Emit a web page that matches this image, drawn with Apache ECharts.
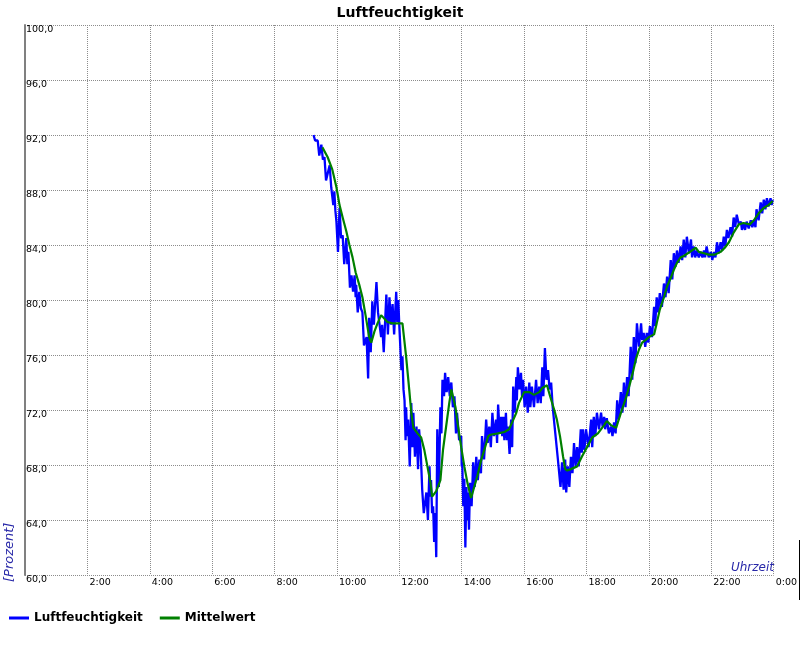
<!DOCTYPE html>
<html>
<head>
<meta charset="utf-8">
<script src="https://cdn.jsdelivr.net/npm/echarts@6/dist/echarts.min.js"></script>
<style>html,body{margin:0;padding:0;background:#fff}#c{width:800px;height:650px}</style>
</head>
<body>
<div id="c"></div>
<script>
// Time in minutes since midnight
const humTime = [555,558,563,566,570,573,576,579,586,589,591,593,595,597,599,602,605,608,611,614,618,620,622,625,628,631,634,636,637,640,643,646,649,652,657,660,662,665,668,671,676,679,682,685,687,690,695,698,701,704,707,710,714,716,718,720,722,724,726,728,730,732,733,735,737,740,743,745,747,750,753,756,758,761,764,767,772,775,778,780,781,783,785,787,789,791,793,796,799,801,803,806,808,811,814,817,820,823,826,829,831,835,839,840,841,843,845,847,849,851,852,854,856,859,862,865,868,871,874,877,879,883,887,890,893,896,899,902,906,908,910,913,916,918,920,922,925,927,929,932,935,937,939,942,945,946,948,951,954,956,958,961,964,967,970,972,975,979,983,986,989,992,995,997,1000,1003,1006,1009,1012,1015,1018,1020,1023,1025,1027,1030,1033,1036,1039,1041,1044,1047,1050,1053,1056,1059,1062,1065,1069,1071,1073,1076,1079,1084,1089,1091,1094,1097,1100,1104,1108,1111,1114,1116,1119,1123,1127,1130,1133,1136,1139,1142,1146,1149,1152,1155,1158,1161,1165,1168,1171,1174,1177,1181,1185,1187,1190,1193,1196,1199,1202,1206,1210,1212,1215,1218,1221,1225,1229,1232,1235,1238,1242,1245,1248,1251,1254,1257,1261,1264,1267,1270,1273,1277,1281,1283,1286,1289,1292,1296,1300,1303,1306,1308,1311,1315,1319,1322,1325,1328,1331,1334,1338,1341,1344,1347,1350,1353,1357,1360,1363,1366,1369,1373,1377,1379,1382,1385,1388,1392,1396,1399,1402,1405,1407,1411,1415,1418,1421,1424,1427,1430,1434,1436,1438];
const humValue = [92.0,91.6,91.6,90.5,91.3,90.2,90.4,88.7,89.8,88.2,88.2,86.9,87.9,86.5,85.7,83.5,86.7,84.5,84.7,82.6,84.5,82.6,83.5,80.9,81.8,80.6,81.8,80.2,81.1,79.1,80.6,79.4,79.1,76.7,77.3,74.3,78.7,76.2,79.9,78.2,81.3,79.1,79.1,77.3,78.2,76.2,80.4,77.5,80.2,78.2,79.7,77.5,80.6,78.4,80.0,78.1,78.1,74.9,75.9,73.5,72.7,69.8,72.2,70.1,71.3,67.9,72.5,69.3,71.8,68.6,70.8,67.7,70.6,69.1,66.2,64.5,66.0,64.0,67.9,65.7,66.9,64.5,65.0,62.4,64.5,61.3,70.6,66.4,72.2,70.3,74.2,73.0,74.7,73.3,74.4,73.0,74.0,72.2,73.0,70.3,71.8,69.8,70.1,67.9,68.2,65.0,67.0,62.0,66.4,64.0,66.0,63.3,66.7,65.0,68.2,66.4,68.6,66.9,68.4,67.4,70.1,68.4,71.3,69.6,70.8,69.3,71.8,70.1,71.3,69.6,72.4,70.3,71.5,70.1,71.5,69.8,71.8,69.8,70.8,68.8,71.3,69.3,73.7,71.8,74.4,72.7,75.1,73.5,74.7,73.0,74.2,72.2,73.7,71.8,74.0,72.2,73.7,72.2,74.2,72.5,73.7,72.5,75.1,73.0,76.5,74.2,74.9,73.5,74.0,72.2,72.2,70.3,70.3,68.4,68.4,66.4,68.2,66.2,68.4,66.0,67.9,66.4,68.6,67.4,69.6,67.9,69.3,67.9,70.6,68.9,70.6,69.1,70.6,69.3,71.3,69.3,71.5,70.1,71.8,70.6,71.8,70.8,71.5,70.6,71.4,70.3,70.8,70.1,71.1,70.3,72.7,71.3,73.3,71.8,74.0,72.2,74.4,73.0,76.6,74.2,77.3,75.4,78.3,76.6,78.3,77.1,77.6,76.6,77.6,76.9,78.1,77.3,79.5,78.1,80.2,79.1,80.5,79.5,81.2,80.2,81.7,80.5,82.9,81.5,83.4,82.4,83.6,82.7,83.9,82.9,84.4,83.1,84.6,83.4,84.4,83.1,83.9,83.1,83.6,83.1,83.5,83.1,83.6,83.1,83.9,83.1,83.5,82.9,83.5,83.1,84.2,83.4,84.2,83.6,84.6,83.9,85.1,84.5,85.3,84.6,86.0,85.3,86.2,85.5,85.7,85.1,85.6,85.1,85.7,85.2,85.8,85.3,85.8,85.3,86.6,85.8,87.1,86.3,87.3,86.6,87.4,86.8,87.4,86.9,87.3];

const avgTime = [572,582,591,599,605,611,618,624,630,636,643,649,655,662,666,672,678,685,697,707,722,726,733,739,743,747,755,762,768,774,780,783,791,799,804,810,816,820,828,833,839,845,851,858,864,870,877,885,891,895,910,922,931,937,945,950,960,970,979,989,995,1004,1010,1018,1023,1029,1035,1039,1043,1050,1062,1071,1081,1091,1102,1114,1119,1127,1137,1142,1148,1156,1162,1169,1175,1181,1187,1194,1200,1210,1215,1221,1229,1235,1242,1248,1254,1261,1267,1279,1290,1296,1306,1315,1327,1338,1346,1354,1363,1373,1382,1394,1402,1411,1421,1430,1438];
const avgValue = [91.1,90.4,89.5,88.2,86.9,86.0,85.0,84.0,83.1,82.0,81.1,80.2,78.9,77.3,76.9,77.7,78.3,78.9,78.4,78.3,78.3,78.3,75.9,73.5,71.8,70.7,70.3,70.0,69.1,67.9,66.7,65.7,66.1,66.9,69.1,70.8,72.5,73.5,72.2,70.8,69.3,67.9,66.7,65.6,66.4,67.2,68.3,69.3,70.1,70.2,70.3,70.4,70.6,71.1,71.8,72.5,73.3,73.3,73.1,73.3,73.6,73.8,73.0,72.0,71.3,70.1,68.6,67.7,67.6,67.7,67.9,68.6,69.3,70.0,70.3,70.9,71.2,70.9,70.7,71.3,72.0,72.9,73.7,74.7,75.7,76.4,76.9,77.1,77.3,77.5,78.3,79.3,80.2,81.0,81.6,82.2,82.7,83.1,83.2,83.5,83.8,83.5,83.4,83.3,83.3,83.5,83.8,84.2,84.9,85.5,85.6,85.5,85.8,86.3,86.7,86.9,87.2];

const yMin = 60, yMax = 100, yStep = 4;
const xMin = 0, xMax = 1440, xStep = 120;

const FONT = 'DejaVu Sans';
const chart = echarts.init(document.getElementById('c'), null, {renderer: 'canvas'});
const gridColor = '#8c8c8c';
chart.setOption({
  animation: false,
  backgroundColor: '#ffffff',
  title: {
    text: 'Luftfeuchtigkeit', left: 'center', top: 1,
    textStyle: {fontFamily: FONT, fontSize: 14, fontWeight: 'bold', color: '#000'}
  },
  grid: {left: 25, top: 25, width: 750, height: 550, containLabel: false},
  xAxis: {
    type: 'value', min: xMin, max: xMax, interval: xStep,
    axisLine: {show: false}, axisTick: {show: false},
    splitLine: {show: true, lineStyle: {color: gridColor, type: 'dotted', width: 1}},
    axisLabel: {
      showMinLabel: false, showMaxLabel: true,
      align: 'left', verticalAlign: 'top', margin: 3, padding: [0, 0, 0, 2],
      fontFamily: FONT, fontSize: 9.5, color: '#000',
      formatter: v => (Math.round(v / 60) % 24) + ':00'
    }
  },
  yAxis: {
    type: 'value', min: yMin, max: yMax, interval: yStep,
    axisLine: {show: true, lineStyle: {color: '#808080', width: 2}},
    axisTick: {show: false},
    splitLine: {show: true, lineStyle: {color: gridColor, type: 'dotted', width: 1}},
    axisLabel: {
      inside: true, align: 'left', verticalAlign: 'top', margin: 1,
      fontFamily: FONT, fontSize: 9.5, color: '#000',
      formatter: v => v.toFixed(1).replace('.', ',')
    }
  },
  legend: {
    left: 9, top: 612, padding: 0, icon: 'rect', itemWidth: 20, itemHeight: 3, itemGap: 17,
    textStyle: {fontFamily: FONT, fontSize: 12, fontWeight: 'bold', color: '#000'},
    data: ['Luftfeuchtigkeit', 'Mittelwert']
  },
  graphic: [
    {type: 'text', x: 3, y: 582, rotation: Math.PI / 2,
     style: {text: '[Prozent]', fontFamily: FONT, fontSize: 13, fontStyle: 'italic', fill: '#2828a8', align: 'left', verticalAlign: 'top'}},
    {type: 'text', x: 774, y: 574,
     style: {text: 'Uhrzeit', fontFamily: FONT, fontSize: 12, fontStyle: 'italic', fill: '#2828a8', align: 'right', verticalAlign: 'bottom'}},
    {type: 'line', shape: {x1: 799.5, y1: 540, x2: 799.5, y2: 600}, style: {stroke: '#000', lineWidth: 1}}
  ],
  series: [
    {name: 'Luftfeuchtigkeit', type: 'line', showSymbol: false, symbol: 'none',
     color: '#0000ff', lineStyle: {color: '#0000ff', width: 2.3},
     data: humTime.map((t, i) => [t, humValue[i]])},
    {name: 'Mittelwert', type: 'line', showSymbol: false, symbol: 'none',
     color: '#008000', lineStyle: {color: '#008000', width: 2.2},
     data: avgTime.map((t, i) => [t, avgValue[i]])}
  ]
});
</script>
</body>
</html>
